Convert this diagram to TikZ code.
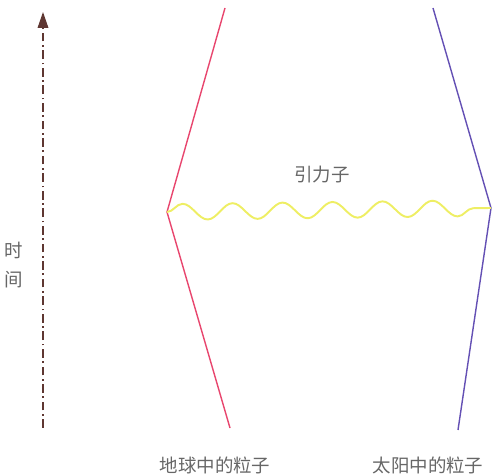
\documentclass[tikz,border=0pt]{standalone}
\usepackage{fontspec}
\newfontfamily\cjk{Noto Sans CJK SC}
\usepackage{tikz}
\usetikzlibrary{arrows.meta, decorations.pathmorphing}

\definecolor{timebrown}{RGB}{95,55,50}
\definecolor{earthred}{RGB}{232,70,110}
\definecolor{sunblue}{RGB}{100,80,180}
\definecolor{gravyellow}{RGB}{238,238,100}

\begin{document}
\begin{tikzpicture}[
  x=0.02cm, y=-0.02cm,
  font=\cjk\fontsize{10.5}{12}\selectfont,
  lbl/.style={text=black!60, inner sep=1pt},
  timeline/.style={timebrown, thick, dash pattern=on 5pt off 2pt on 1pt off 2pt,
                   -{Triangle[length=9pt, width=6pt]}},
  worldline/.style={thick},
  graviton/.style={gravyellow, line width=1.1pt, decorate,
                   decoration={snake, segment length=1cm, amplitude=0.16cm}}
]
\useasboundingbox (0,0) rectangle (494,476);
% time axis
\coordinate (t0) at (43,428);
\coordinate (t1) at (43,12);
\draw[timeline] (t0) -- (t1);
\node[lbl, align=center] (time) at (14,265) {时\\[4pt]间};
% particle in the earth
\coordinate (e0) at (230,428);
\coordinate (ev) at (167,212);
\coordinate (e1) at (225,8);
\draw[worldline, earthred] (e0) -- (ev) -- (e1);
% particle in the sun
\coordinate (s0) at (458,430);
\coordinate (sv) at (491,208);
\coordinate (s1) at (433,8);
\draw[worldline, sunblue] (s0) -- (sv) -- (s1);
% exchanged graviton
\draw[graviton] (ev) -- (sv);
\node[lbl] (grav) at (322,175) {引力子};
\node[lbl] (earth) at (215,465) {地球中的粒子};
\node[lbl] (sun) at (428,465) {太阳中的粒子};
\end{tikzpicture}
\end{document}
